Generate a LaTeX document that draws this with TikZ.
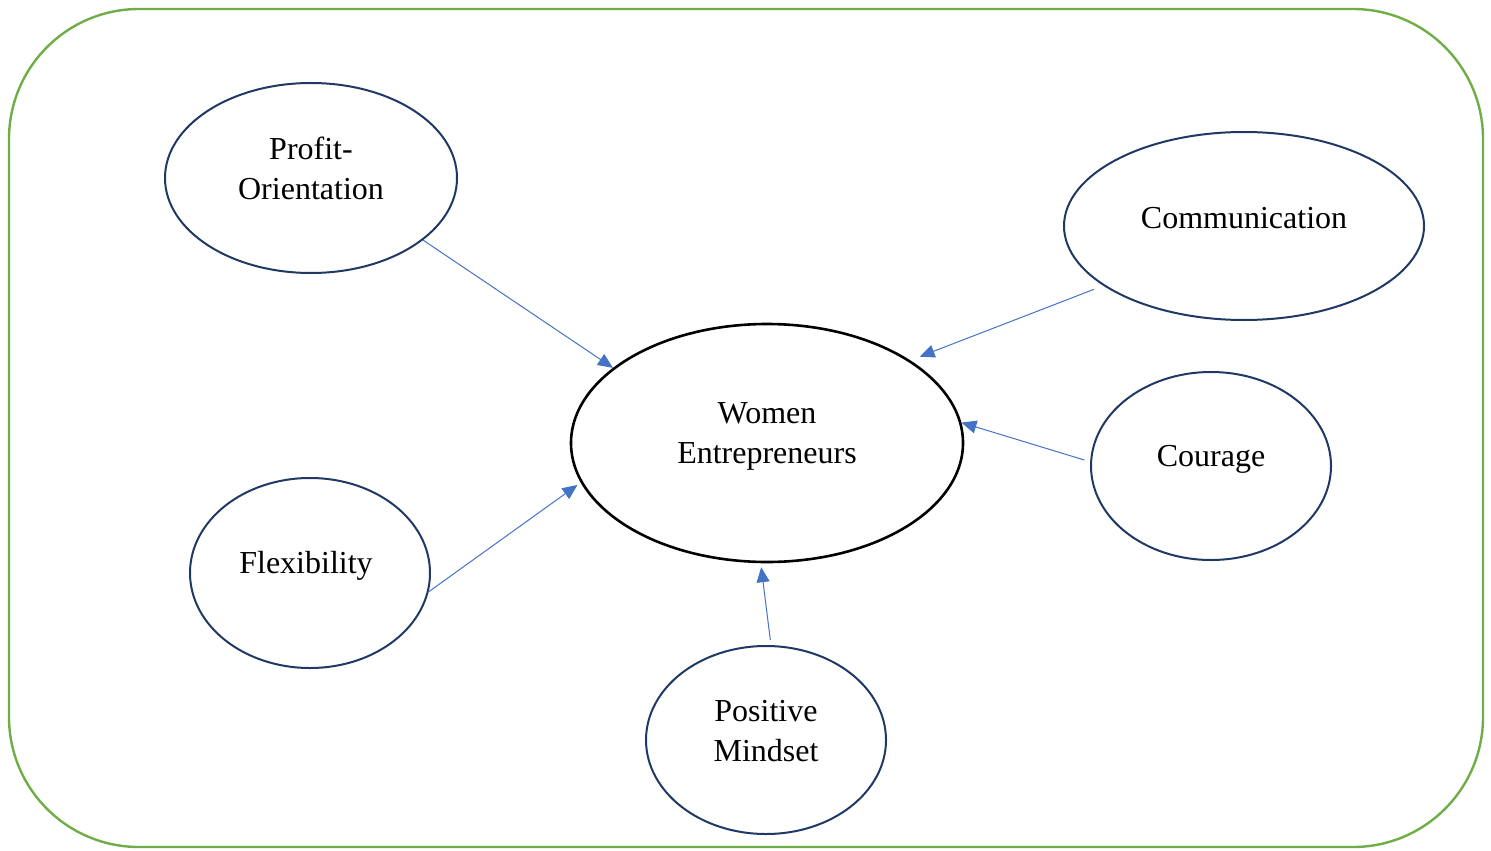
\documentclass[tikz,border=0pt]{standalone}
\usepackage{fontspec}
\setmainfont{Liberation Serif}
\usetikzlibrary{shapes.geometric,arrows.meta}
\definecolor{framegreen}{HTML}{70AD47}
\definecolor{navy}{HTML}{1F3864}
\definecolor{arrblue}{HTML}{4472C4}
\tikzset{
  ovalnode/.style={ellipse,draw=navy,line width=1pt,inner sep=0pt},
  bigoval/.style={ellipse,draw=black,line width=1.3pt,inner sep=0pt},
  lbl/.style={align=center,font=\fontsize{16}{20}\selectfont,inner sep=0pt},
  arr/.style={draw=arrblue,line width=0.5pt,-{Triangle[length=7.5pt,width=6.5pt]}}
}
\begin{document}
\begin{tikzpicture}[x=0.5pt,y=-0.5pt]
\useasboundingbox (0,0) rectangle (1491,850);
\draw[framegreen,line width=1.2pt,rounded corners=65pt] (9,9) rectangle (1483,847);

\node[bigoval,minimum width=196pt,minimum height=119pt] (we) at (767,443) {};
\node[ovalnode,minimum width=146pt,minimum height=95pt] (po) at (311,178) {};
\node[ovalnode,minimum width=180pt,minimum height=94pt] (co) at (1244,226) {};
\node[ovalnode,minimum width=120pt,minimum height=94pt] (cg) at (1211,466) {};
\node[ovalnode,minimum width=120pt,minimum height=95pt] (fl) at (310,573) {};
\node[ovalnode,minimum width=120pt,minimum height=94pt] (pm) at (766,740) {};

\node[lbl] (wet) at (767,436) {Women\\Entrepreneurs};
\node[lbl] (pot) at (311,168) {Profit-\\Orientation};
\node[lbl] (cot) at (1244,218) {Communication};
\node[lbl] (cgt) at (1211,459) {Courage};
\node[lbl] (flt) at (306,566) {Flexibility};
\node[lbl] (pmt) at (766,731) {Positive\\Mindset};

\draw[arr] (po.-29) -- (we.154.8);
\draw[arr,shorten <=5pt,shorten >=5pt] (co.203.9) -- (we.30.5);
\draw[arr,shorten <=3pt] (cg.178.2) -- (we.6.2);
\draw[arr,shorten >=2pt] (fl.-9.1) -- (we.192.7);
\draw[arr,shorten <=2.5pt,shorten >=2pt] (pm.87.7) -- (we.267.7);
\end{tikzpicture}
\end{document}
